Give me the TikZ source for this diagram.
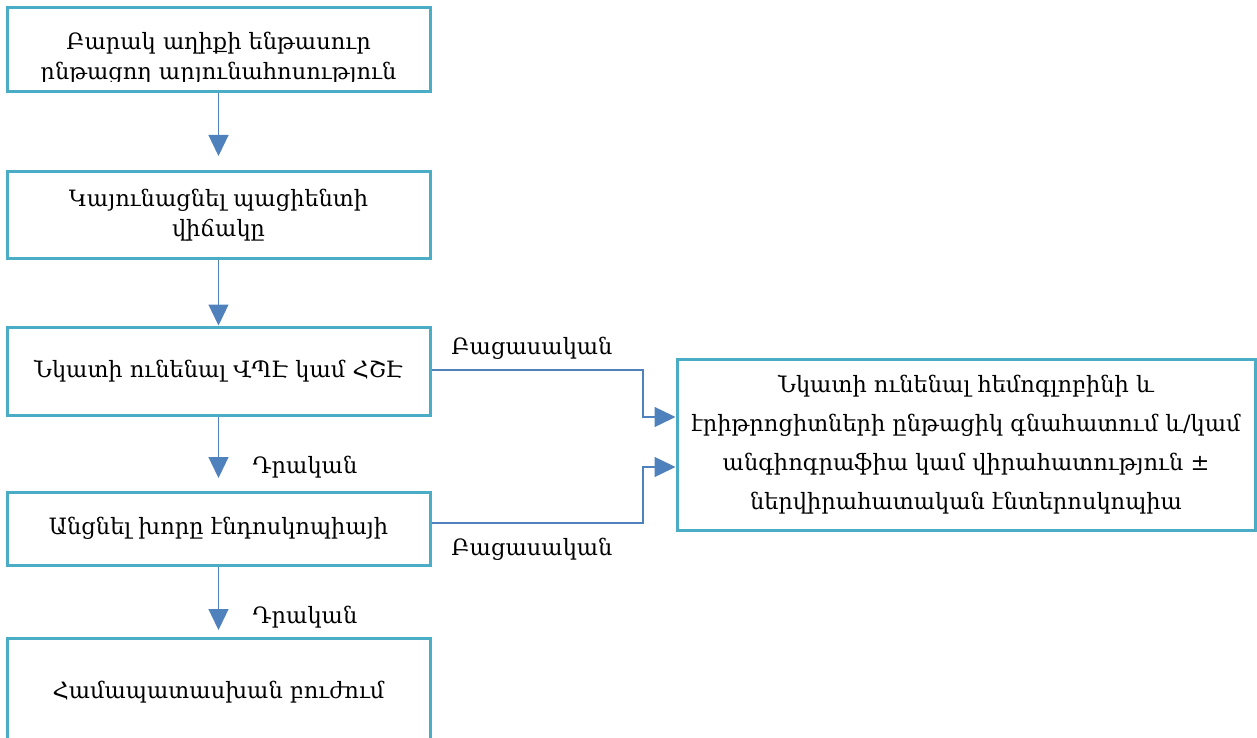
\documentclass[tikz,border=0pt]{standalone}
\usepackage{fontspec}
\setmainfont{DejaVu Serif}
\usetikzlibrary{arrows.meta}
\definecolor{boxc}{HTML}{4BACC6}
\definecolor{arrc}{HTML}{4F81BD}
\begin{document}
\begin{tikzpicture}[x=1pt,y=-1pt,
  box/.style={draw=boxc,line width=3pt,minimum width=423pt,inner sep=0pt},
  txt/.style={font=\fontsize{22.5}{30}\selectfont,align=center,inner sep=0pt},
  lbl/.style={font=\fontsize{22.5}{26}\selectfont,inner sep=0pt},
  conn/.style={draw=arrc,line width=1.3pt,-{Triangle[length=21pt,width=20pt]}}]
\useasboundingbox (0,0) rectangle (1257,738);
% boxes
\node[box,minimum height=84pt] (b1) at (218.5,50) {};
\begin{scope}
\clip (7,9) rectangle (430,82);
\node[txt] (t1) at (218.5,58) {Բարակ աղիքի ենթասուր\\ընթացող արյունահոսություն};
\end{scope}
\node[box,minimum height=86pt,txt] (b2) at (218.5,215) {Կայունացնել պացիենտի\\վիճակը};
\node[box,minimum height=88pt,txt] (b3) at (218.5,371) {Նկատի ունենալ ՎՊԷ կամ ՀՇԷ};
\node[box,minimum height=73pt,txt] (b4) at (218.5,528.5) {Անցնել խորը էնդոսկոպիայի};
\node[box,minimum height=110pt] (b5) at (218.5,693) {};
\node[txt] (t5) at (218.5,692) {Համապատասխան բուժում};
\node[draw=boxc,line width=3pt,minimum width=578pt,minimum height=171pt,inner sep=0pt,
  txt,font=\fontsize{22.5}{39}\selectfont] (r) at (966,444.5)
  {Նկատի ունենալ հեմոգլոբինի և\\էրիթրոցիտների ընթացիկ գնահատում և/կամ\\անգիոգրաֆիա կամ վիրահատություն ±\\ներվիրահատական էնտերոսկոպիա};
% coordinates
\coordinate (a1) at (218.5,156);
\coordinate (a3) at (218.5,478);
\coordinate (a4) at (218.5,630);
\coordinate (m1) at (643,370);
\coordinate (m2) at (643,417);
\coordinate (m3) at (643,523);
\coordinate (m4) at (643,467);
% connectors
\draw[conn] (b1.south) -- (a1);
\draw[conn] (b2.south) -- (b3.north);
\draw[conn] (b3.south) -- (a3);
\draw[conn] (b4.south) -- (a4);
\draw[conn] (b3.east |- m1) -- (m1) -- (m2) -- (r.west |- m2);
\draw[conn] (b4.east |- m3) -- (m3) -- (m4) -- (r.west |- m4);
% labels
\node[lbl] (l1) at (532,348) {Բացասական};
\node[lbl] (l2) at (532,549) {Բացասական};
\node[lbl] (l3) at (305,467) {Դրական};
\node[lbl] (l4) at (305,617) {Դրական};
\end{tikzpicture}
\end{document}
